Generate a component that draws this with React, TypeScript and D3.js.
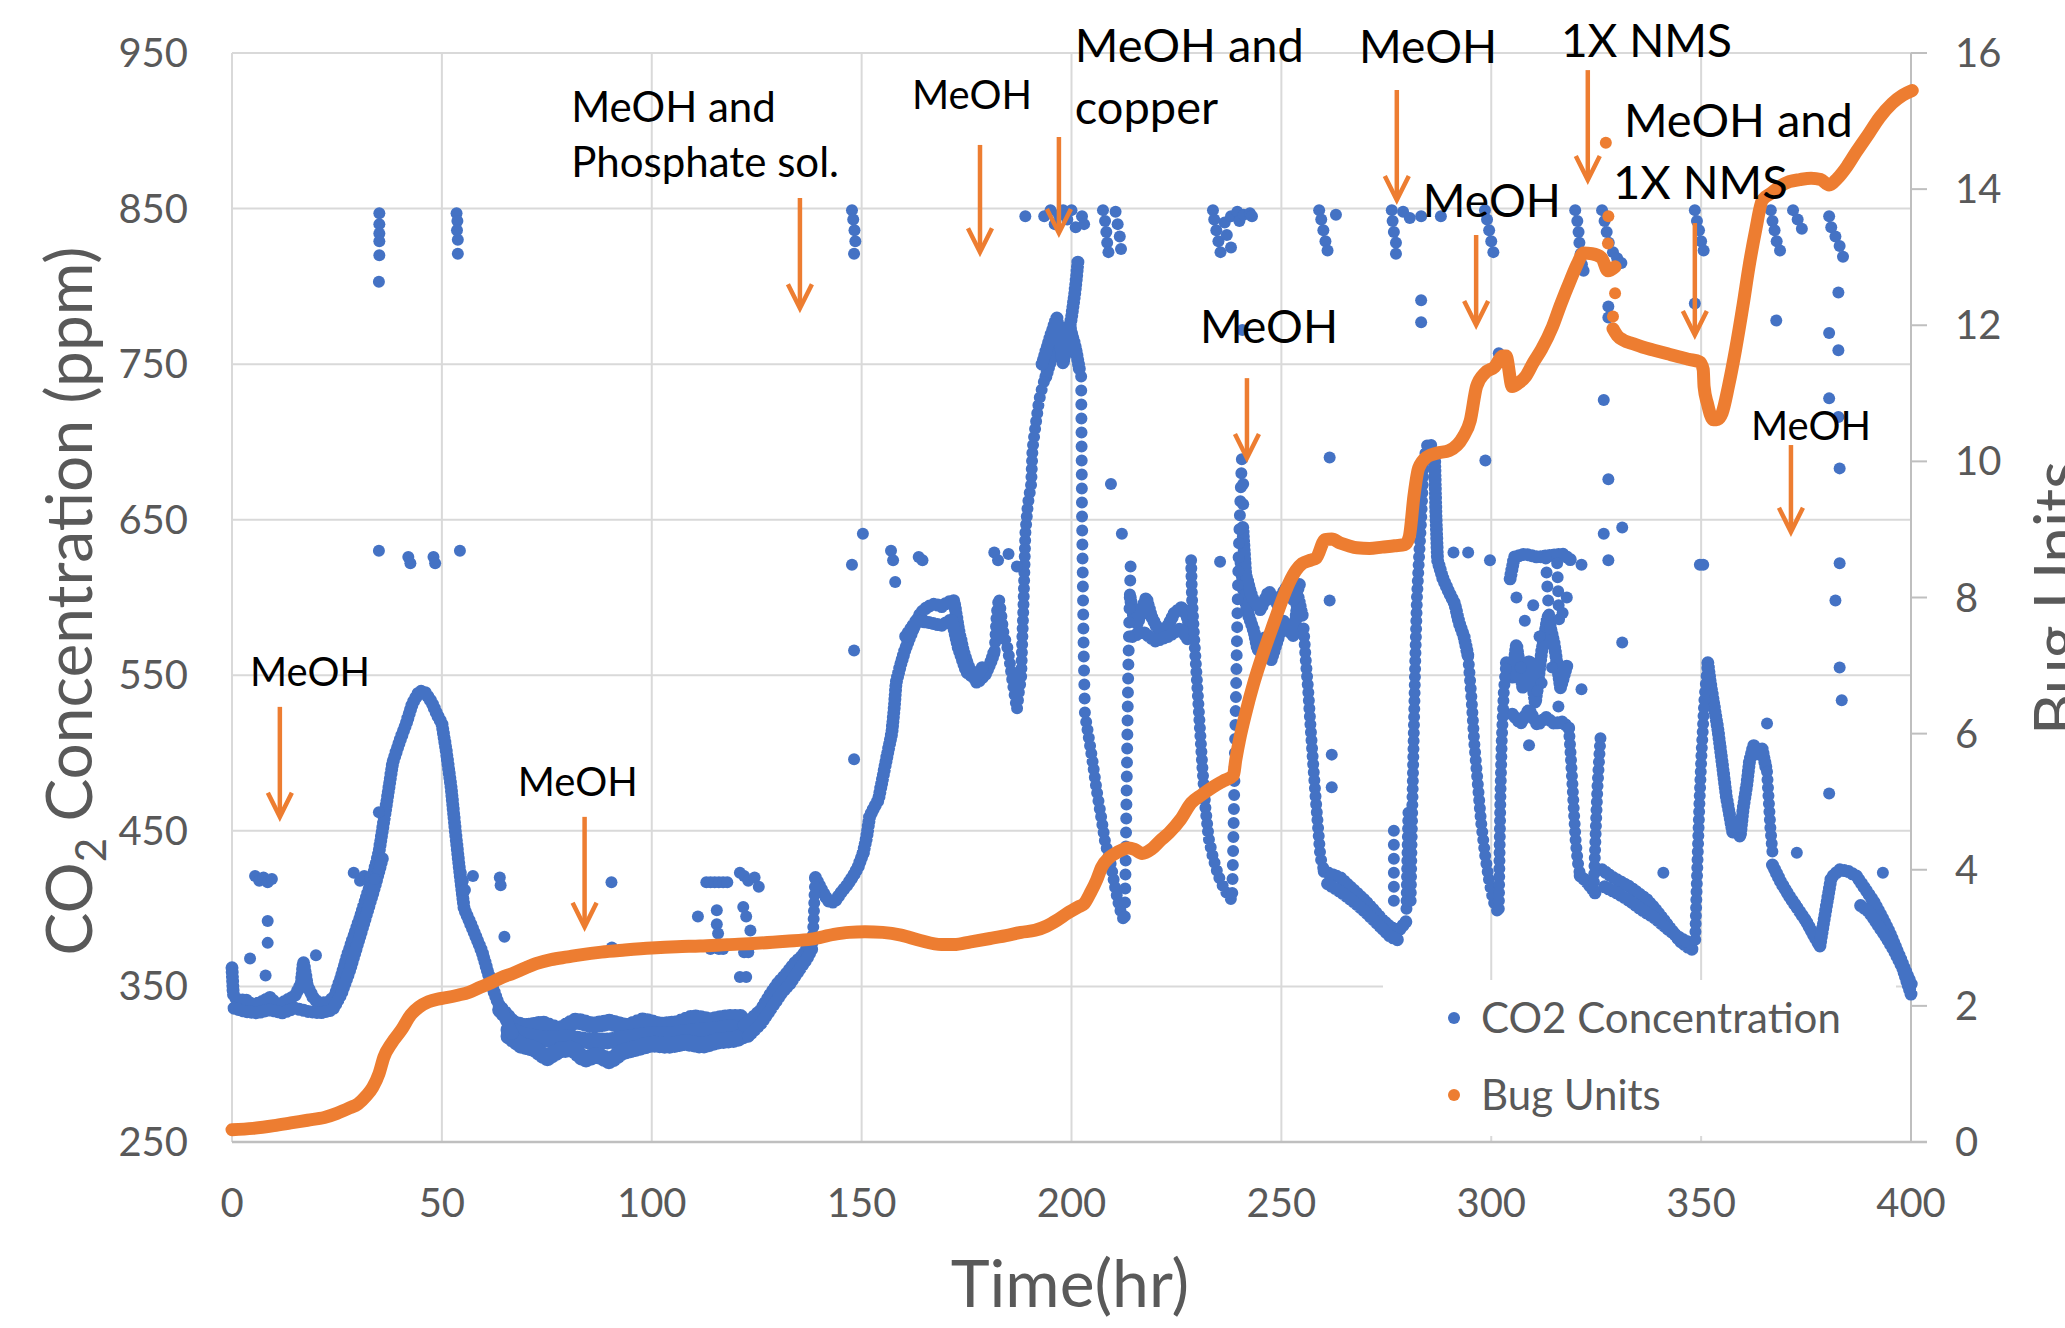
import * as d3 from 'd3';
import { useEffect } from 'react';

// ---- axes ----
const timeTicks = [0, 50, 100, 150, 200, 250, 300, 350, 400];
const ppmTicks = [250, 350, 450, 550, 650, 750, 850, 950];
const unitTicks = [0, 2, 4, 6, 8, 10, 12, 14, 16];

// ---- CO2 concentration (hr, ppm) ----
const co2Start: [number, number][] = [[0,362],[0.3,345],[1.5,340],[3,342],[5,338],[7,340],[9,343],[11,338],[13,341],[15,344],[16.5,352],[17,366],[18,350],[19.5,342],[21,339],[23,340],[24.5,344],[26,356],[27.5,370],[29,382],[30.5,394],[32,407],[33.5,420],[35,436],[36.5,462],[38.3,494],[40,508],[41.5,519],[43,532],[44.7,540],[46,539],[47.5,533],[49,524],[50,519],[51,502],[52.2,478],[53.2,450],[54.2,425],[55.3,400],[57.5,386],[59.6,372],[61.7,352],[63.3,340],[64.9,331],[67,318]];
const co2StartLow: [number, number][] = [[0.5,336],[3,334],[6,333],[9,335],[12,333],[15,336],[18,334],[21,333],[24,335],[26,345],[28,360],[30,378],[32,396],[34,414],[36,434]];
const flatUpper: [number, number][] = [[64,335],[67,326],[70,324],[74,326],[78,322],[82,328],[86,325],[90,327],[94,324],[98,328],[102,325],[106,326],[110,330],[114,328],[118,330],[122,330]];
const flatMid: [number, number][] = [[66,322],[70,318],[75,316],[80,317],[85,315],[90,315],[95,317],[100,319],[105,319],[110,321],[115,322],[120,324]];
const flatLower: [number, number][] = [[66,318],[69,312],[72,310],[75,304],[78,309],[81,310],[84,303],[87,306],[90,302],[93,308],[96,310],[100,313],[104,312],[108,314],[112,312],[116,315],[120,316],[123,320]];
const co2Rise1: [number, number][] = [[122,325],[124,330],[126,335],[128,344],[130,352],[132,358],[134,365],[136,370],[137.8,378]];
const co2Rise1b: [number, number][] = [[123,318],[126,326],[129,338],[131,346],[133,352],[135,360],[137,368],[138.5,376]];
const co2Col138: [number, number][] = [[138.3,378],[138.6,395],[138.8,410],[139,420]];
const co2Step: [number, number][] = [[139,420],[140.5,412],[142,405],[143.5,404],[145,410],[146.5,415],[148,421],[149.2,427],[150.4,436]];
const co2Rise2: [number, number][] = [[150.4,436],[151.2,446],[151.9,459],[152.8,464],[154,470],[155.1,485],[156.2,500],[157.2,513],[157.8,530],[158.2,545],[159.2,556],[160.3,566],[161.4,574],[162.5,581]];
const co2Plateau: [number, number][] = [[162.5,581],[164,590],[165.7,594],[167.5,596],[169,594],[170.5,597],[172,598],[173.2,578],[174.3,565],[175.4,556],[177.5,545],[179.6,551],[181,560],[181.7,566]];
const co2PlateauB: [number, number][] = [[160.5,575],[163,585],[166,584],[169,582],[171.5,586],[173,568],[175,552],[177,548],[179,556]];
const co2Twin: [number, number][] = [[181.7,566],[182.2,590],[182.7,600],[183.3,588],[183.8,577],[184.9,566],[186,545],[187,528],[187.5,540],[188,548],[188.3,575],[188.6,598],[188.8,620],[189,641],[189.6,660],[190.4,673],[190.7,695],[191.5,712],[192.3,727],[193.2,737],[193.9,742]];
const co2Peak: [number, number][] = [[193.9,742],[195,752],[196,762],[197,756],[198,770],[199,765],[200,780],[200.8,796],[201.2,806],[201.6,818]];
const co2PeakB: [number, number][] = [[193,750],[195,768],[196.5,780],[198,750],[199.5,775],[201,760],[202,745]];
const co2Drop1Col: [number, number][] = [[202.3,742],[202.4,700],[202.5,655],[202.7,610],[202.9,565],[203.2,525]];
const co2Drop1: [number, number][] = [[203.5,520],[204,512],[205,495],[206,476],[207,460],[208,443],[209.4,428],[210.5,412],[211.5,400],[212.5,392]];
const co2Rise3: [number, number][] = [[212.7,395],[212.9,430],[213.1,470],[213.3,510],[213.5,550],[213.8,590],[214.1,622]];
const co2Band2: [number, number][] = [[214,600],[214.8,588],[215.7,583],[216.8,592],[217.8,600],[219,588],[220.5,580],[222,578],[223.2,583],[224.5,590],[226.4,594],[227.5,588],[228.5,578]];
const co2Band2b: [number, number][] = [[214.5,575],[217,578],[220,572],[223,575],[226,580],[228,572]];
const co2Drop2: [number, number][] = [[228.5,624],[228.7,600],[229.2,575],[229.8,550],[230.5,520],[231.2,490],[231.9,465],[232.7,445],[233.7,433],[235,421],[236.5,412],[238,406]];
const co2Rise4: [number, number][] = [[238.3,410],[238.6,450],[238.9,495],[239.2,540],[239.5,585],[239.8,625],[240.2,660],[240.6,690]];
const co2Band3: [number, number][] = [[240.3,625],[241,605],[242,590],[243.5,578],[244.4,566],[246,574],[247.6,560],[249,572],[250.5,585],[252,578],[253,575],[254,600],[255,588]];
const co2Band3b: [number, number][] = [[240.8,645],[241.5,615],[243,600],[245,592],[247,604],[249,596],[251,606],[253,598],[254.5,610]];
const co2Drop3: [number, number][] = [[255.3,580],[255.8,560],[256.4,540],[257,515],[257.6,492],[258.2,470],[258.8,450],[259.3,433],[260.2,424]];
const co2Floor1: [number, number][] = [[260.2,424],[262,422],[264,420],[266,415],[268,410],[270,405],[272,399],[274,393],[276,388],[278,386],[279.8,392]];
const co2Floor1b: [number, number][] = [[261,416],[264,411],[267,405],[270,398],[273,390],[276,382],[278.5,379]];
const co2Col277: [number, number][] = [[276.8,405],[276.8,432],[276.8,457]];
const co2Col280: [number, number][] = [[279.8,400],[280,430],[280.3,465]];
const co2Spike5: [number, number][] = [[280.8,405],[281,440],[281.3,480],[281.6,520],[281.9,560],[282.3,600],[282.8,626],[283.3,650],[283.8,680],[284.5,697],[285.5,700],[286.5,690]];
const co2Band4: [number, number][] = [[286.5,690],[286.8,655],[287.2,624],[288.5,612],[290,603],[291.3,596],[292.3,584],[293.5,575],[294.5,562]];
const co2Drop4: [number, number][] = [[294.5,562],[295.3,535],[296,505],[296.8,480],[297.6,455],[298.6,433],[299.5,418],[300.5,405],[301.5,398]];
const co2Col302: [number, number][] = [[301.8,400],[302,440],[302.2,475],[302.5,508],[303,540],[303.6,558]];
const blockTop: [number, number][] = [[304.5,612],[305.5,626],[308,628],[311,626],[314,627],[317,628],[319,624]];
const blockMid: [number, number][] = [[303.6,558],[305,548],[306,570],[307.5,542],[309,560],[310.5,532],[312,565],[313.5,588],[315,570],[316.5,542],[318,556]];
const blockLow: [number, number][] = [[305,525],[307,519],[309,528],[311,518],[313,523],[315,519],[317,520],[318.5,516]];
const blockColA: [number, number][] = [[313,625],[313.4,605],[313.8,588],[314.2,572]];
const blockColB: [number, number][] = [[315.7,622],[316,600],[316.2,582]];
const co2Drop6: [number, number][] = [[318.5,516],[318.9,500],[319.3,482],[319.7,462],[320.1,444],[320.6,430],[321.2,421]];
const co2Floor2: [number, number][] = [[321.2,421],[322.5,418],[324,413],[325,409]];
const co2Col325: [number, number][] = [[324.4,412],[324.7,435],[325,458],[325.3,478],[325.7,496],[326.1,513]];
const co2Floor3: [number, number][] = [[326.4,425],[329,420],[331,417],[333,414],[335,410],[337,406],[339,400],[341,393],[343,386],[345,379],[347,375],[348.5,373]];
const co2Floor3b: [number, number][] = [[327,414],[330,410],[333,405],[336,399],[339,394],[342,387],[345,381],[348,377]];
const co2Col349: [number, number][] = [[348.6,380],[348.9,410],[349.2,436],[349.6,468],[350.1,500],[350.8,535],[351.6,558]];
const co2Hump: [number, number][] = [[351.6,558],[352.2,545],[353,532],[354,515],[355,494],[356,472],[357.6,448],[358.5,452],[359.3,446],[360,464],[360.9,480],[361.5,494],[362.5,505],[363.5,499],[364.5,503],[365.5,490]];
const co2HumpDrop: [number, number][] = [[365.7,488],[366.1,470],[366.5,452],[367,436]];
const co2Floor4: [number, number][] = [[367,428],[369,417],[371,408],[373,400],[375,392],[377,382],[378.3,376]];
const co2Hump3: [number, number][] = [[378.3,376],[379,388],[380,404],[381,420],[383,425],[385,424],[387,421],[389,413],[391,405],[393,395],[395,384],[397,371],[399,358],[400.3,350]];
const co2Hump3b: [number, number][] = [[388,402],[390,398],[392,390],[394,382],[396,373],[398,362],[400,345]];

// isolated CO2 readings
const co2Outliers: [number, number][] = [
  [4.3,368],[8,357],[8.5,378],[8.5,392],[5.5,421],[6.5,418],[7.5,420],[8.5,417],[9.5,419],[20,370],
  [29,423],[30.5,418],[31.5,421],[33,420],[34,419],
  [35.1,847],[35.1,840],[35.1,834],[35.1,829],[35.1,820],[35,803],[53.5,847],[53.7,842],[53.6,836],[53.8,830],[53.8,821],
  [35,630],[42,626],[42.5,622],[48,626],[48.4,622],[54.3,630],[35,462],
  [54.5,423],[55,418],[55.5,412],[57.4,421],[63.8,420],[64,415],[90.4,417],[64.9,382],
  [111,395],[113,417],[114,417],[115,417],[116,417],[117,417],[118,417],[115.5,399],[115.5,390],[115.8,384],[114,374],[116,374],[117,374],
  [121,423],[122,421],[123,418],[124.5,420],[125.5,414],[121.8,401],[122.5,395],[123.5,386],[122,372],[123,372],[121,356],[122.5,356],[90.5,375],
  [147.7,849],[148,843],[148.3,836],[148.5,829],[148.2,821],[150.3,641],[147.7,621],[148.2,566],[148.2,496],
  [157,630],[157.5,624],[158,610],[163.6,626],[164.5,624],
  [181.6,629],[182.5,624],[185,628],[187,620],[189,845],
  [193.5,845],[195,849],[196,840],[197,846],[198,849],[199,843],[200,849],[201,838],[202.5,845],[203,840],
  [207.5,849],[208,842],[208.3,835],[208.5,828],[208.8,822],[210.5,848],[211,840],[211.5,832],[211.8,824],[209.4,673],[212,641],
  [233.7,849],[234,843],[234.5,836],[235,829],[235.5,822],[236.5,841],[237,833],[238,845],[239.5,848],[240,842],[241,846],[242.5,847],[243,845],[238,825],[240.7,772],
  [235.4,623],[240.9,673],[240.9,660],
  [259,849],[259.5,843],[260,836],[260.5,829],[261,823],[263,846],[261.5,598],[262,499],[262,478],[261.5,690],
  [276.3,849],[276.5,842],[276.8,835],[277.3,828],[277.3,821],[279,848],[280.6,844],[283.3,845],[288,845],[283.3,791],[283.3,777],
  [298.5,849],[299,843],[299.5,836],[300,829],[300.5,822],[301.8,757],[298.6,688],[299.7,624],[291,629],[294.5,629],
  [306,600],[308,585],[310,595],[311.5,575],[314.5,555],[317,590],[318,600],[307,555],[312,545],[309,505],[311,540],[316,530],
  [320,849],[320.5,842],[320.8,835],[321,828],[321.3,821],[321.6,814],[322,810],[326.4,849],[327,842],[327.5,835],[328,828],[329,822],[330,818],[331,815],
  [326.8,727],[327.9,787],[327.9,780],[327.9,676],[326.8,641],[331.2,645],[327.9,624],[331.2,571],[321.5,621],[321.5,541],
  [341,423],[348.5,849],[349,842],[349.5,836],[350,829],[350.6,823],[348.5,789],[349.7,621],[350.5,621],
  [366.6,849],[367,842],[367.5,836],[368,829],[368.8,823],[371.9,849],[373,843],[374,837],
  [380.5,845],[381,838],[382,832],[383,826],[383.8,819],[367.9,778],[380.5,770],[382.7,796],[382.7,759],[380.5,728],[382.7,716],
  [383,683],[383,622],[382,598],[383,555],[383.5,534],[380.5,474],[372.8,436],[365.7,519],[393.3,423],
];

// ---- Bug units (hr, units) ----
const bugFirst: [number, number][] = [[0,0.18],[5,0.2],[10,0.24],[14,0.28],[18,0.32],[22,0.36],[25,0.42],[28,0.5],[30,0.56],[32,0.68],[33.5,0.8],[35,1.0],[36.2,1.25],[38,1.45],[40.4,1.65],[42.6,1.87],[44.5,1.98],[46.8,2.06],[49,2.1],[51,2.12],[54,2.16],[56.4,2.2],[59,2.27],[61.7,2.34],[64,2.41],[67,2.48],[70,2.56],[72.4,2.62],[76,2.68],[80,2.72],[83,2.75],[88,2.79],[93.6,2.82],[100,2.85],[106,2.87],[111.5,2.88],[118,2.9],[125,2.92],[132,2.95],[138,2.98],[143.4,3.05],[147,3.08],[150.8,3.09],[155,3.08],[159.4,3.04],[164,2.96],[169,2.9],[172,2.9],[176,2.94],[180.6,2.99],[185,3.04],[188,3.08],[191.3,3.11],[194,3.17],[196.6,3.26],[199,3.36],[201.8,3.46],[203,3.5],[204.5,3.66],[206,3.85],[207.2,4.04],[209,4.18],[211,4.26],[213.6,4.32],[215,4.3],[216.8,4.24],[219,4.3],[221,4.42],[223.2,4.54],[226,4.74],[228.5,4.98],[231,5.1],[233.8,5.22],[236,5.3],[238.6,5.39],[239.1,5.6],[240,5.9],[241.5,6.3],[243.4,6.74],[245.5,7.15],[247.6,7.52],[249.5,7.85],[251.8,8.21],[253.5,8.4],[255,8.5],[257,8.55],[258.3,8.58],[260.4,8.85],[262,8.86],[264,8.8],[266,8.76],[268,8.73],[271,8.72],[274,8.74],[277,8.76],[279.5,8.78],[280.5,8.9],[281.6,9.5],[282.7,9.9],[284.8,10.07],[287,10.12],[290,10.16],[293.3,10.36],[295,10.6],[296.5,11.1],[298.5,11.3],[300.8,11.39],[302.8,11.55],[303.5,11.55],[305,11.1],[306.5,11.15],[308.2,11.25],[310,11.45],[312,11.65],[314.6,11.98],[316.5,12.3],[318.9,12.67],[320.5,12.9],[322,13.06],[324,13.05],[326.3,12.99],[327.8,12.8],[329.5,12.86]];
const bugJump: [number, number][] = [[327.3,14.68],[327.9,13.6],[327.8,13.2],[329.5,12.47],[329,12.13]];
const bugSecond: [number, number][] = [[329,11.95],[330,11.85],[331.5,11.78],[333.7,11.73],[336,11.68],[339,11.63],[342,11.58],[344.4,11.54],[347,11.5],[349.7,11.46],[350.5,11.35],[350.7,11.1],[351.5,10.85],[352.9,10.61],[354,10.62],[355,10.71],[356.5,11.1],[358.2,11.64],[360,12.3],[361.4,12.86],[363,13.4],[364.6,13.84],[366.7,13.94],[369,14.05],[371,14.11],[373.5,14.14],[376.2,14.16],[378.5,14.14],[380.5,14.06],[382.5,14.16],[384.7,14.33],[387,14.55],[390,14.82],[392.5,15.05],[395.5,15.26],[398,15.38],[400.3,15.45]];

// ---- annotations: text lines, anchor (hr, ppm of first baseline), arrow (hr, top ppm, tip ppm) ----
const noteLines = [['MeOH'], ['MeOH'], ['MeOH and', 'Phosphate sol.'], ['MeOH'], ['MeOH and', 'copper'], ['MeOH'], ['MeOH'], ['1X NMS'], ['MeOH'], ['MeOH and', '1X NMS'], ['MeOH']];
const noteTime = [4.3, 68.1, 80.8, 162, 200.8, 230.6, 268.5, 316.6, 283.7, 331.6, 361.9];
const notePpm = [543.2, 472.5, 905.7, 914, 944.2, 763.6, 943.6, 947.4, 844.6, 896, 701.3];
const arrowTime = [11.4, 84, 135.3, 178.2, 197, 241.8, 277.5, 323, 296.4, 348.5, 371.4];
const arrowTop = [529.7, 459, 856.8, 890.9, 896, 741, 926.2, 939, 833, 840.7, 698];
const arrowTip = [459, 388.3, 786, 822, 834.3, 689.7, 855.5, 868.4, 775.2, 768.8, 642.2];

const BLUE = '#4472C4';
const ORANGE = '#ED7D31';
const GRID = '#d9d9d9';
const AXIS = '#bfbfbf';
const TEXT = '#595959';
const FONT = 'Lato, "Open Sans", sans-serif';

const noteSize = [40, 40, 42, 40, 47, 46, 46, 46, 46, 47, 40];
const secondLineDx = [0, 0, 0, 0, 0, 0, 0, 0, 0, -11, 0];

const bandRuns = [flatUpper, flatMid, flatLower];
const denseRuns = [co2Start, co2StartLow, co2Rise1, co2Rise1b, co2Step, co2Rise2, co2Plateau, co2PlateauB, co2Peak, co2PeakB, co2Band2, co2Band2b, co2Band3, co2Band3b, co2Floor1, co2Floor1b, co2Band4, blockTop, blockMid, blockLow, co2Floor2, co2Floor3, co2Floor3b, co2Hump, co2Floor4, co2Hump3, co2Hump3b];
const mediumRuns = [co2Col138, co2Twin, co2Drop1, co2Drop2, co2Drop3, co2Col280, co2Spike5, co2Drop4, co2Col302, co2Drop6, co2Col325, co2Col349, co2HumpDrop];
const sparseRuns = [co2Drop1Col, co2Rise3, co2Rise4, co2Col277, blockColA, blockColB];

const App = () => {
  useEffect(() => {
    document.body.style.margin = '0';
    document.body.style.overflow = 'hidden';
  }, []);

  const width = 2065;
  const height = 1328;
  const left = 232, right = 1911, top = 53, bottom = 1142;

  const x = d3.scaleLinear().domain([0, 400]).range([left, right]);
  const yL = d3.scaleLinear().domain([250, 950]).range([bottom, top]);
  const yR = d3.scaleLinear().domain([0, 16]).range([bottom, top]);

  const co2Line = d3.line<[number, number]>().x(d => x(d[0])).y(d => yL(d[1]));
  const bugLine = d3.line<[number, number]>().x(d => x(d[0])).y(d => yR(d[1])).curve(d3.curveMonotoneX);

  const legend = { x: 1383, y: 980, w: 513, h: 156 };

  return (
    <svg width={width} height={height} style={{ display: 'block', background: '#fff' }} fontFamily={FONT}>
      {/* gridlines */}
      {ppmTicks.slice(1).map(v => (
        <line key={'h' + v} x1={left} x2={right} y1={yL(v)} y2={yL(v)} stroke={GRID} strokeWidth={2} />
      ))}
      {timeTicks.slice(0, -1).map(v => (
        <line key={'v' + v} x1={x(v)} x2={x(v)} y1={top} y2={bottom} stroke={GRID} strokeWidth={2} />
      ))}
      <line x1={right} x2={right} y1={top} y2={bottom} stroke={AXIS} strokeWidth={2} />
      {unitTicks.map(v => (
        <line key={'rt' + v} x1={right} x2={right + 16} y1={yR(v)} y2={yR(v)} stroke={AXIS} strokeWidth={2} />
      ))}
      <line x1={left} x2={right + 16} y1={bottom} y2={bottom} stroke={AXIS} strokeWidth={2.5} />

      {/* legend box hides the grid behind it */}
      <rect x={legend.x} y={legend.y} width={legend.w} height={legend.h} fill="#fff" />

      {/* CO2 points */}
      <g fill="none" stroke={BLUE} strokeLinecap="round" strokeLinejoin="round">
        {bandRuns.map((r, i) => <path key={'b' + i} d={co2Line(r) || ''} strokeWidth={17} strokeDasharray="0 5" />)}
        {denseRuns.map((r, i) => <path key={'d' + i} d={co2Line(r) || ''} strokeWidth={13} strokeDasharray="0 4.5" />)}
        {mediumRuns.map((r, i) => <path key={'m' + i} d={co2Line(r) || ''} strokeWidth={12} strokeDasharray="0 8" />)}
        {sparseRuns.map((r, i) => <path key={'s' + i} d={co2Line(r) || ''} strokeWidth={12} strokeDasharray="0 14" />)}
      </g>
      <g fill={BLUE}>
        {co2Outliers.map((d, i) => <circle key={'o' + i} cx={x(d[0])} cy={yL(d[1])} r={6} />)}
      </g>

      {/* Bug units */}
      <g fill="none" stroke={ORANGE} strokeLinecap="round" strokeLinejoin="round" strokeWidth={13}>
        <path d={bugLine(bugFirst) || ''} />
        <path d={bugLine(bugSecond) || ''} />
      </g>
      <g fill={ORANGE}>
        {bugJump.map((d, i) => <circle key={'j' + i} cx={x(d[0])} cy={yR(d[1])} r={6} />)}
      </g>

      {/* annotations */}
      <g stroke={ORANGE} strokeWidth={4.5} fill="none" strokeLinecap="butt">
        {arrowTime.map((t, i) => {
          const ax = x(t);
          const y1 = yL(arrowTop[i]);
          const y2 = yL(arrowTip[i]);
          return (
            <g key={'a' + i}>
              <line x1={ax} x2={ax} y1={y1} y2={y2 - 2} />
              <path d={`M${ax - 12},${y2 - 24} L${ax},${y2} L${ax + 12},${y2 - 24}`} />
            </g>
          );
        })}
      </g>
      <g fill="#000">
        {noteLines.map((lines, i) => (
          <text key={'n' + i} x={x(noteTime[i])} y={yL(notePpm[i])} fontSize={noteSize[i]}>
            {lines.map((l, j) => (
              <tspan key={j} x={x(noteTime[i]) + (j > 0 ? secondLineDx[i] : 0)} dy={j === 0 ? 0 : noteSize[i] * 1.32}>{l}</tspan>
            ))}
          </text>
        ))}
      </g>

      {/* tick labels */}
      <g fill={TEXT} fontSize={40}>
        {ppmTicks.map(v => (
          <text key={'yl' + v} x={188} y={yL(v) + 14} textAnchor="end">{v}</text>
        ))}
        {unitTicks.map(v => (
          <text key={'yr' + v} x={1955} y={yR(v) + 14}>{v}</text>
        ))}
        {timeTicks.map(v => (
          <text key={'x' + v} x={x(v)} y={1217} textAnchor="middle">{v}</text>
        ))}
      </g>

      {/* axis titles */}
      <text x={1070} y={1307} textAnchor="middle" fill={TEXT} fontSize={66}>Time(hr)</text>
      <text transform="translate(92,601) rotate(-90)" textAnchor="middle" fill={TEXT} fontSize={64}>
        CO<tspan dy={14} fontSize={42}>2</tspan><tspan dy={-14}> Concentration (ppm)</tspan>
      </text>
      <text transform="translate(2080,598) rotate(-90)" textAnchor="middle" fill={TEXT} fontSize={64}>Bug Units</text>

      {/* legend */}
      <circle cx={1454} cy={1018} r={6} fill={BLUE} />
      <circle cx={1454} cy={1095} r={6} fill={ORANGE} />
      <text x={1481} y={1033} fill={TEXT} fontSize={42}>CO2 Concentration</text>
      <text x={1481} y={1110} fill={TEXT} fontSize={42}>Bug Units</text>
    </svg>
  );
};

export default App;
